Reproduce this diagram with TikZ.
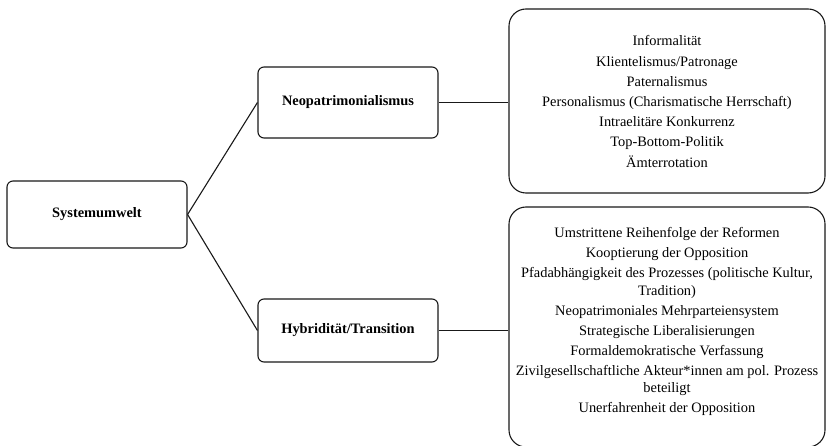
\documentclass[tikz,border=0pt]{standalone}
\usepackage{fontspec}
\setmainfont{Liberation Serif}
\begin{document}
\begin{tikzpicture}[x=1bp,y=-1bp, line width=1.1bp,
  smallbox/.style={draw=black!90, rounded corners=6bp, minimum width=180bp, inner sep=0pt, font=\fontsize{14.4bp}{17bp}\selectfont\bfseries},
  bigbox/.style={draw=black!90, rounded corners=17bp, minimum width=316bp, inner sep=0pt},
  itemtext/.style={align=center, inner sep=0pt, font=\fontsize{14.4bp}{20.2bp}\selectfont},
  link/.style={draw=black!90, line width=1.1bp}]
\useasboundingbox (0,0) rectangle (826,446);
\clip (0,0) rectangle (826,446);
\node[smallbox, minimum height=67bp] (sys) at (97,214.5) {Systemumwelt};
\node[smallbox, minimum height=71bp] (neo) at (348,102.5) {Neopatrimonialismus};
\node[smallbox, minimum height=63bp] (hyb) at (348,330.5) {Hybridität/Transition};
\node[bigbox, minimum height=184bp] (b1) at (667,101) {};
\node[bigbox, minimum height=240bp] (b2) at (667,327) {};
\node[itemtext] (t1) at (667,101.5) {Informalität\\Klientelismus/Patronage\\Paternalismus\\Personalismus (Charismatische Herrschaft)\\Intraelitäre Konkurrenz\\Top-Bottom-Politik\\Ämterrotation};
\node[itemtext, font=\fontsize{14.4bp}{17.6bp}\selectfont] (t2) at (667,321.5) {Umstrittene Reihenfolge der Reformen\\[2.4bp]Kooptierung der Opposition\\[2.4bp]Pfadabhängigkeit des Prozesses (politische Kultur,\\Tradition)\\[2.4bp]Neopatrimoniales Mehrparteiensystem\\[2.4bp]Strategische Liberalisierungen\\[2.4bp]Formaldemokratische Verfassung\\[2.4bp]Zivilgesellschaftliche Akteur*innen am pol. Prozess\\beteiligt\\[2.4bp]Unerfahrenheit der Opposition};
\draw[link] (sys.east) -- (neo.west);
\draw[link] (sys.east) -- (hyb.west);
\draw[link] (neo.east) -- (neo.east -| b1.west);
\draw[link] (hyb.east) -- (hyb.east -| b2.west);
\end{tikzpicture}
\end{document}
